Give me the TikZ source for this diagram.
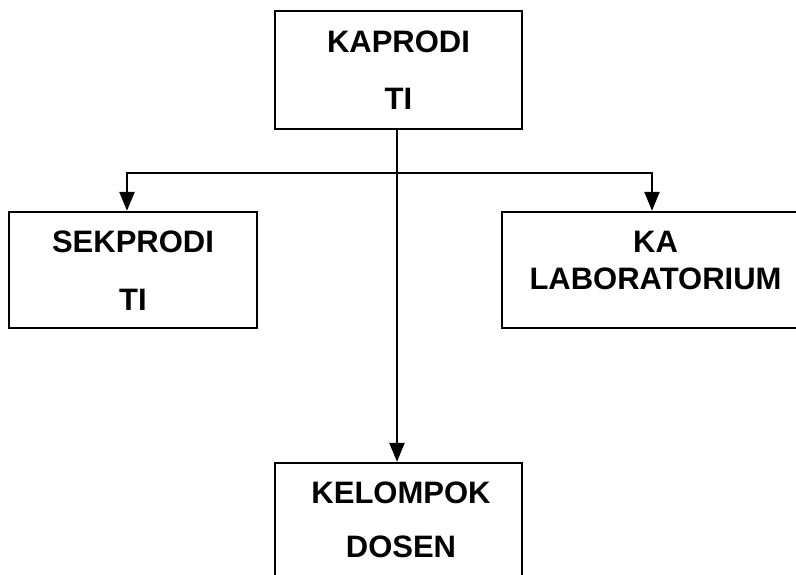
\documentclass[tikz,border=0pt]{standalone}
\usepackage{fontspec}
\setmainfont{Liberation Sans}
\usetikzlibrary{arrows.meta,calc}
\begin{document}
\begin{tikzpicture}[x=1pt,y=1pt,
  box/.style={draw=black,line width=2.4pt,rectangle,inner sep=0pt},
  lbl/.style={anchor=base,inner sep=0pt,font=\fontsize{31}{31}\selectfont\bfseries},
  conn/.style={line width=2.4pt,-{Triangle[length=19pt,width=15pt]}}]
\useasboundingbox (0,0) rectangle (796,-575);
\fill[white] (0,0) rectangle (796,-575);
% boxes
\node[box,minimum width=247pt,minimum height=118pt] (kaprodi) at (398.5,-70) {};
\node[box,minimum width=248pt,minimum height=116pt] (sekprodi) at (133,-270) {};
\node[box,minimum width=304pt,minimum height=116pt] (kalab) at (654,-270) {};
\node[box,minimum width=247pt,minimum height=140pt] (kelompok) at (398.5,-533) {};
% texts
\node[lbl] (t1) at (398.5,-53) {KAPRODI};
\node[lbl] (t2) at (398.5,-110) {TI};
\node[lbl] (t3) at (133,-252) {SEKPRODI};
\node[lbl] (t4) at (133,-310) {TI};
\node[lbl] (t5) at (655.5,-253) {KA};
\node[lbl] (t6) at (655.5,-289) {LABORATORIUM};
\node[lbl] (t7) at (401,-503) {KELOMPOK};
\node[lbl] (t8) at (401,-557) {DOSEN};
% connectors
\coordinate (j) at ($(kaprodi.south)+(-1.5,-43)$);
\draw[conn] ([xshift=-1.5pt]kaprodi.south) -- ([xshift=-1.5pt]kelompok.north);
\draw[conn] (j) -| ([xshift=-6pt]sekprodi.north);
\draw[conn] (j) -| ([xshift=-2pt]kalab.north);
\end{tikzpicture}
\end{document}
